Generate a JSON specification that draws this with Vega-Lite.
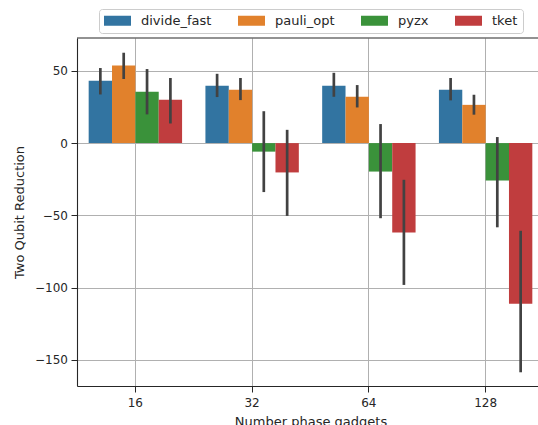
{
  "$schema": "https://vega.github.io/schema/vega-lite/v6.json",
  "width": 461,
  "height": 348,
  "autosize": {"type": "none"},
  "padding": {"left": 77, "top": 38, "right": 0, "bottom": 39},
  "background": "white",
  "config": {
    "font": "DejaVu Sans",
    "view": {"stroke": null},
    "axis": {
      "grid": true,
      "gridColor": "#b0b0b0",
      "gridWidth": 1,
      "domainColor": "#262626",
      "domainWidth": 1.1,
      "tickColor": "#262626",
      "tickSize": 6,
      "tickWidth": 1,
      "labelFontSize": 12,
      "labelColor": "#262626",
      "labelPadding": 3,
      "titleFontSize": 13,
      "titleFontWeight": "normal",
      "titleColor": "#262626",
      "zindex": 1
    }
  },
  "data": {
    "values": [
      {"gadgets": "16", "method": "divide_fast", "value": 43.2, "lo": 33.7, "hi": 52.0},
      {"gadgets": "16", "method": "pauli_opt", "value": 53.8, "lo": 44.4, "hi": 62.6},
      {"gadgets": "16", "method": "pyzx", "value": 35.5, "lo": 19.9, "hi": 51.3},
      {"gadgets": "16", "method": "tket", "value": 30.0, "lo": 13.6, "hi": 45.1},
      {"gadgets": "32", "method": "divide_fast", "value": 39.7, "lo": 31.9, "hi": 48.0},
      {"gadgets": "32", "method": "pauli_opt", "value": 36.9, "lo": 29.8, "hi": 45.1},
      {"gadgets": "32", "method": "pyzx", "value": -5.9, "lo": -33.9, "hi": 22.1},
      {"gadgets": "32", "method": "tket", "value": -20.3, "lo": -50.4, "hi": 9.2},
      {"gadgets": "64", "method": "divide_fast", "value": 39.7, "lo": 32.1, "hi": 48.7},
      {"gadgets": "64", "method": "pauli_opt", "value": 32.1, "lo": 24.7, "hi": 40.2},
      {"gadgets": "64", "method": "pyzx", "value": -19.7, "lo": -52.0, "hi": 13.2},
      {"gadgets": "64", "method": "tket", "value": -61.9, "lo": -98.2, "hi": -25.4},
      {"gadgets": "128", "method": "divide_fast", "value": 36.9, "lo": 29.6, "hi": 45.1},
      {"gadgets": "128", "method": "pauli_opt", "value": 26.5, "lo": 19.7, "hi": 33.5},
      {"gadgets": "128", "method": "pyzx", "value": -25.9, "lo": -58.3, "hi": 4.2},
      {"gadgets": "128", "method": "tket", "value": -111.2, "lo": -158.7, "hi": -60.7}
    ]
  },
  "layer": [
    {
      "mark": {"type": "bar"},
      "encoding": {
        "x": {
          "field": "gadgets",
          "type": "nominal",
          "sort": ["16", "32", "64", "128"],
          "scale": {"range": [0, 467], "paddingInner": 0.2, "paddingOuter": 0.1},
          "axis": {"title": "Number phase gadgets", "labelAngle": 0, "bandPosition": 0.5, "labelPadding": 5, "titlePadding": 7}
        },
        "xOffset": {
          "field": "method",
          "type": "nominal",
          "sort": ["divide_fast", "pauli_opt", "pyzx", "tket"],
          "scale": {"paddingInner": 0, "paddingOuter": 0}
        },
        "y": {
          "field": "value",
          "type": "quantitative",
          "scale": {"domain": [-168.2, 72.8], "nice": false, "zero": false},
          "axis": {"title": "Two Qubit Reduction", "values": [-150, -100, -50, 0, 50], "labelPadding": 3.5, "titlePadding": 8}
        },
        "color": {
          "field": "method",
          "type": "nominal",
          "scale": {
            "domain": ["divide_fast", "pauli_opt", "pyzx", "tket"],
            "range": ["#3274a1", "#e1812c", "#3a923a", "#c03d3e"]
          },
          "legend": {
            "orient": "none",
            "legendX": 22,
            "legendY": -29,
            "direction": "horizontal",
            "title": null,
            "symbolType": "M-1,-0.77H3.15V0.77H-1Z",
            "symbolSize": 169,
            "symbolStrokeWidth": 0,
            "symbolOpacity": 1,
            "labelFontSize": 13,
            "labelColor": "#262626",
            "labelOffset": 24,
            "columnPadding": 26,
            "padding": 5,
            "strokeColor": "#cccccc",
            "fillColor": "white",
            "cornerRadius": 3
          }
        }
      }
    },
    {
      "mark": {"type": "rule", "color": "#424242", "strokeWidth": 2.7},
      "encoding": {
        "x": {"field": "gadgets", "type": "nominal", "sort": ["16", "32", "64", "128"]},
        "xOffset": {"field": "method", "type": "nominal", "sort": ["divide_fast", "pauli_opt", "pyzx", "tket"]},
        "y": {"field": "lo", "type": "quantitative"},
        "y2": {"field": "hi"}
      }
    },
    {
      "data": {"values": [{"top": 72.8}]},
      "mark": {"type": "rule", "color": "#262626", "strokeWidth": 1.1},
      "encoding": {
        "y": {"field": "top", "type": "quantitative"}
      }
    }
  ]
}
